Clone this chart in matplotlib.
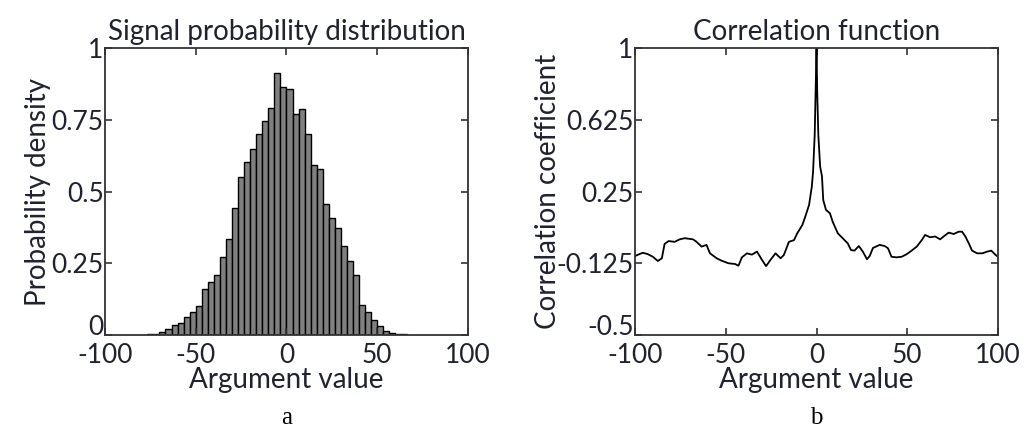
import numpy as np
import matplotlib
matplotlib.use("Agg")
import matplotlib.pyplot as plt
import matplotlib.transforms as mtransforms

plt.rcParams['font.family'] = ['Lato', 'DejaVu Sans']

TXT = '#20222f'

# histogram: bins of width 10/3 starting at -76.67, heights read as density
hist_start = -230 / 3
hist_width = 10 / 3
hist_heights = [0.003, 0.004, 0.012, 0.020, 0.035, 0.043, 0.062, 0.081, 0.102, 0.159,
                0.186, 0.209, 0.271, 0.333, 0.444, 0.552, 0.604, 0.648, 0.700, 0.746,
                0.792, 0.912, 0.863, 0.856, 0.770, 0.786, 0.700, 0.592, 0.578, 0.455,
                0.409, 0.374, 0.311, 0.258, 0.208, 0.103, 0.081, 0.052, 0.033, 0.014,
                0.006, 0.004, 0.004]

# correlation function
lag = [-100, -95.7, -93, -90.2, -87.4, -85.2, -83.7, -81.5, -78.1, -75.4, -72.6, -68, -66.1,
       -63.3, -60.6, -58.7, -55, -52.2, -48.5, -44.8, -43, -41.1, -38.3, -35.6, -32.8, -30,
       -27.8, -25.4, -22.6, -19.8, -18, -15.2, -12.4, -10.6, -7.8, -5.9, -4.1, -2.6, -1.9,
       -1.0, 0, 0.4, 1.0, 2, 3, 3.7, 5.2, 7.4, 8.9, 11.7, 14.4, 17.2, 19, 20.9, 23.3, 25.5,
       27.8, 29.3, 31.1, 34.8, 37.6, 39.4, 41.3, 44, 46.9, 49.6, 52.4, 55.2, 58, 59.8, 62.6,
       65.4, 68.1, 70.4, 72.8, 75.6, 78.3, 80.2, 82, 83.9, 85.7, 88.5, 91.3, 94.1, 96.3,
       98.7, 100]
corr = [-0.087, -0.070, -0.077, -0.091, -0.113, -0.099, -0.024, -0.009, -0.013, 0.000, 0.006,
        0.000, -0.013, -0.038, -0.029, -0.073, -0.099, -0.112, -0.125, -0.129, -0.138, -0.094,
        -0.073, -0.080, -0.064, -0.108, -0.140, -0.108, -0.073, -0.099, -0.082, -0.013, -0.004,
        0.032, 0.075, 0.127, 0.180, 0.275, 0.354, 0.545, 1.0, 0.763, 0.545, 0.38, 0.33, 0.206,
        0.154, 0.136, 0.092, 0.032, 0.006, -0.021, -0.056, -0.059, -0.035, -0.064, -0.104,
        -0.087, -0.045, -0.029, -0.035, -0.047, -0.091, -0.094, -0.091, -0.078, -0.059,
        -0.038, -0.004, 0.023, 0.011, 0.015, 0.000, 0.018, 0.035, 0.028, 0.040, 0.040, 0.015,
        -0.021, -0.059, -0.073, -0.073, -0.064, -0.059, -0.082, -0.091]

xticks = [-100, -50, 0, 50, 100]
hist_yticks = [0, 0.25, 0.5, 0.75, 1]
hist_ylabels = ['0', '0.25', '0.5', '0.75', '1']
corr_yticks = [-0.5, -0.125, 0.25, 0.625, 1]
corr_ylabels = ['-0.5', '-0.125', '0.25', '0.625', '1']

FS = 19
LFS = 20

fig = plt.figure(figsize=(10.27, 4.33), dpi=100)
ax1 = fig.add_axes([0.1022, 0.2263, 0.3535, 0.6628])
ax2 = fig.add_axes([0.6183, 0.2263, 0.3535, 0.6628])


def style(ax):
    for s in ax.spines.values():
        s.set_linewidth(1.3)
        s.set_color('#333333')
    ax.tick_params(direction='in', top=True, right=True, length=5, width=1.2,
                   color='#333333', labelsize=FS, labelcolor=TXT)
    ax.tick_params(axis='x', pad=6)
    ax.tick_params(axis='y', pad=1)
    ax.set_xlim(-100, 100)
    ax.set_xticks(xticks)
    ax.set_xticklabels([str(t) for t in xticks])


def lift_bottom_label(ax):
    # nudge the lowest y label up so it clears the -100 label below
    lab = ax.get_yticklabels()[0]
    off = mtransforms.ScaledTranslation(0, 7 / 72, fig.dpi_scale_trans)
    lab.set_transform(lab.get_transform() + off)


edges = hist_start + hist_width * np.arange(len(hist_heights))
ax1.bar(edges, hist_heights, width=hist_width, align='edge', color='#808080',
        edgecolor='black', linewidth=1.0)
style(ax1)
ax1.set_ylim(0, 1)
ax1.set_yticks(hist_yticks)
ax1.set_yticklabels(hist_ylabels)
lift_bottom_label(ax1)
ax1.set_title('Signal probability distribution', fontsize=LFS, color=TXT, pad=6)
ax1.set_xlabel('Argument value', fontsize=LFS, color=TXT, labelpad=-1)
ax1.set_ylabel('Probability density', fontsize=LFS, color=TXT, labelpad=0)

ax2.plot(lag, corr, color='black', linewidth=1.3)
style(ax2)
ax2.set_ylim(-0.5, 1)
ax2.set_yticks(corr_yticks)
ax2.set_yticklabels(corr_ylabels)
lift_bottom_label(ax2)
ax2.set_title('Correlation function', fontsize=LFS, color=TXT, pad=6)
ax2.set_xlabel('Argument value', fontsize=LFS, color=TXT, labelpad=-1)
ax2.set_ylabel('Correlation coefficient', fontsize=LFS, color=TXT, labelpad=-3)

fig.text(0.2789, 0.02, 'a', family='Liberation Serif', fontsize=18, ha='center', color='black')
fig.text(0.7950, 0.02, 'b', family='Liberation Serif', fontsize=18, ha='center', color='black')

fig.savefig('out.png', dpi=100)
